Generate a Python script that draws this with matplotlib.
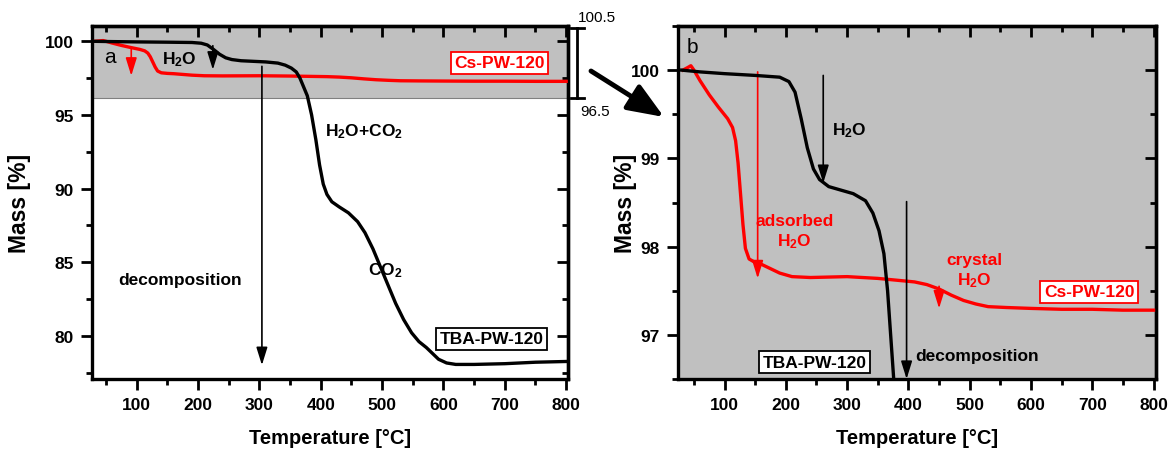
import matplotlib
matplotlib.use("Agg")
import matplotlib.pyplot as plt
from matplotlib.ticker import MultipleLocator
from matplotlib.lines import Line2D

plt.rcParams['font.family'] = ['Liberation Sans', 'DejaVu Sans']
plt.rcParams['mathtext.fontset'] = 'custom'
plt.rcParams['mathtext.rm'] = 'Liberation Sans:bold'
plt.rcParams['mathtext.it'] = 'Liberation Sans:bold'
plt.rcParams['mathtext.bf'] = 'Liberation Sans:bold'

# TGA curves (temperature in degC, mass in %)
tba_T = [30, 60, 100, 150, 190, 205, 215, 225, 235, 245, 255, 270, 290, 310, 330, 342,
         352, 360, 366, 372, 378, 385, 392, 398, 404, 410, 418, 430, 445, 460, 472, 485,
         498, 510, 522, 535, 548, 560, 572, 582, 592, 605, 620, 650, 700, 750, 800]
tba_mass = [100.0, 99.98, 99.96, 99.94, 99.92, 99.87, 99.75, 99.45, 99.12, 98.88, 98.76, 98.68,
            98.64, 98.6, 98.52, 98.38, 98.18, 97.92, 97.5, 96.9, 96.3, 95.0, 93.3, 91.6,
            90.3, 89.6, 89.1, 88.75, 88.35, 87.75, 87.0, 85.9, 84.6, 83.4, 82.2, 81.1, 80.2,
            79.6, 79.2, 78.8, 78.4, 78.15, 78.05, 78.05, 78.1, 78.2, 78.25]

cs_T = [32, 40, 45, 50, 60, 75, 90, 105, 113, 118, 122, 126, 130, 134, 140, 150, 160, 175,
        190, 210, 240, 300, 350, 380, 410, 430, 450, 470, 490, 510, 530, 560, 600, 650,
        700, 750, 800]
cs_mass = [100.0, 100.03, 100.05, 100.0, 99.88, 99.72, 99.58, 99.45, 99.35, 99.2, 98.95,
           98.6, 98.25, 97.98, 97.86, 97.82, 97.8, 97.75, 97.7, 97.66, 97.65, 97.66, 97.64,
           97.62, 97.6, 97.57, 97.52, 97.45, 97.39, 97.35, 97.32, 97.31, 97.3, 97.29,
           97.29, 97.28, 97.28]

tba_label = "TBA-PW-120"
cs_label = "Cs-PW-120"

W, H = 1169, 456
fig = plt.figure(figsize=(W / 100, H / 100), dpi=100)


def px(x, y):
    return (x / W, 1 - y / H)


def style(ax, xlim, ylim, ymaj, ymin):
    ax.set_xlim(xlim)
    ax.set_ylim(ylim)
    ax.xaxis.set_major_locator(MultipleLocator(100))
    ax.xaxis.set_minor_locator(MultipleLocator(50))
    ax.yaxis.set_major_locator(MultipleLocator(ymaj))
    ax.yaxis.set_minor_locator(MultipleLocator(ymin))
    for s in ax.spines.values():
        s.set_linewidth(2.4)
    ax.tick_params(which='major', direction='out', length=8, width=2, labelsize=12.5, pad=5)
    ax.tick_params(which='minor', direction='out', length=4, width=2)
    for lab in ax.get_xticklabels() + ax.get_yticklabels():
        lab.set_fontweight('bold')
    sx = ax.secondary_xaxis('top')
    sx.xaxis.set_major_locator(MultipleLocator(100))
    sx.xaxis.set_minor_locator(MultipleLocator(50))
    sx.tick_params(which='major', direction='in', length=8, width=2, labeltop=False)
    sx.tick_params(which='minor', direction='in', length=4, width=2)
    sy = ax.secondary_yaxis('right')
    sy.yaxis.set_major_locator(MultipleLocator(ymaj))
    sy.yaxis.set_minor_locator(MultipleLocator(ymin))
    sy.tick_params(which='major', direction='in', length=8, width=2, labelright=False)
    sy.tick_params(which='minor', direction='in', length=4, width=2)
    for s in list(sx.spines.values()) + list(sy.spines.values()):
        s.set_linewidth(2.4)
    ax.set_xlabel("Temperature [°C]", fontsize=14.5, fontweight='bold')
    ax.set_ylabel("Mass [%]", fontsize=16.5, fontweight='bold')


def arrow(ax, x, y0, y1, color, lw=1.2, hl=0.9, hw=0.28):
    ax.annotate('', xy=(x, y1), xytext=(x, y0),
                arrowprops=dict(arrowstyle=f'-|>,head_length={hl},head_width={hw}',
                                color=color, lw=lw, shrinkA=0, shrinkB=0,
                                mutation_scale=12))


def boxed(ax, x, y, s, color):
    ax.text(x, y, s, color=color, fontsize=12.5, fontweight='bold', ha='center', va='center',
            bbox=dict(boxstyle='square,pad=0.2', fc='white', ec=color, lw=1.3), zorder=6)


# ---- panel a ----
ax1 = fig.add_axes([92 / W, 1 - 380 / H, (568 - 92) / W, (380 - 27) / H])
ax1.axhspan(96.13, 101.1, fc='#c0c0c0', ec='#808080', lw=0.8, zorder=0)
ax1.plot(cs_T, cs_mass, color='red', lw=2.4, zorder=3)
ax1.plot(tba_T, tba_mass, color='black', lw=2.4, zorder=4)
style(ax1, (27, 803), (77.06, 101.04), 5, 2.5)
ax1.yaxis.set_label_coords(-0.128, 0.5)
ax1.xaxis.set_label_coords(0.5, -0.14)

ax1.text(56, 99.0, "a", fontsize=15, ha='center', va='center')
ax1.text(170, 98.8, "H$_2$O", fontsize=12.5, fontweight='bold', ha='center', va='center')
arrow(ax1, 91, 99.45, 97.66, 'red')
arrow(ax1, 224, 99.7, 98.07, 'black')
arrow(ax1, 304, 98.3, 78.0, 'black')
ax1.text(170, 83.8, "decomposition", fontsize=12.5, fontweight='bold', ha='center', va='center')
ax1.text(470, 93.9, "H$_2$O+CO$_2$", fontsize=12.5, fontweight='bold', ha='center', va='center')
ax1.text(505, 84.5, "CO$_2$", fontsize=12.5, fontweight='bold', ha='center', va='center')
boxed(ax1, 678, 79.8, tba_label, 'black')
boxed(ax1, 691, 98.55, cs_label, 'red')

# ---- panel b ----
ax2 = fig.add_axes([678 / W, 1 - 380 / H, (1156 - 678) / W, (380 - 27) / H])
ax2.set_facecolor('#c0c0c0')
ax2.plot(cs_T, cs_mass, color='red', lw=2.4, zorder=3)
ax2.plot(tba_T, tba_mass, color='black', lw=2.4, zorder=4)
style(ax2, (24, 804), (96.5, 100.5), 1, 0.5)
ax2.yaxis.set_label_coords(-0.085, 0.5)
ax2.xaxis.set_label_coords(0.5, -0.14)

ax2.text(48, 100.27, "b", fontsize=15, ha='center', va='center')
arrow(ax2, 154, 99.98, 97.64, 'red')
ax2.text(214, 98.17, "adsorbed\nH$_2$O", color='red', fontsize=12.5, fontweight='bold',
         ha='center', va='center', linespacing=1.2)
arrow(ax2, 261, 99.94, 98.72, 'black')
ax2.text(275, 99.32, "H$_2$O", fontsize=12.5, fontweight='bold', ha='left', va='center')
arrow(ax2, 397, 98.51, 96.5, 'black')
ax2.text(512, 96.77, "decomposition", fontsize=12.5, fontweight='bold', ha='center', va='center')
ax2.text(507, 97.73, "crystal\nH$_2$O", color='red', fontsize=12.5, fontweight='bold',
         ha='center', va='center', linespacing=1.2)
arrow(ax2, 450, 97.55, 97.3, 'red')
boxed(ax2, 247, 96.69, tba_label, 'black')
boxed(ax2, 695, 97.49, cs_label, 'red')

# ---- bracket showing the zoomed range, and the zoom arrow ----
xb = px(577, 0)[0]
fig.add_artist(Line2D([xb, xb], [px(0, 29)[1], px(0, 99)[1]], color='black', lw=2))
for yy in (29, 99):
    fig.add_artist(Line2D([px(571, 0)[0], px(584, 0)[0]], [px(0, yy)[1]] * 2, color='black', lw=2))
fig.text(*px(578, 18), "100.5", fontsize=11, ha='left', va='center')
fig.text(*px(580, 112), "96.5", fontsize=11, ha='left', va='center')
fig.add_artist(matplotlib.patches.FancyArrowPatch(
    px(591, 72), px(664, 118), transform=fig.transFigure,
    arrowstyle='-|>,head_length=1.0,head_width=0.4', mutation_scale=22,
    color='black', lw=3.5, shrinkA=0, shrinkB=0))

fig.savefig("out.png", dpi=100)
